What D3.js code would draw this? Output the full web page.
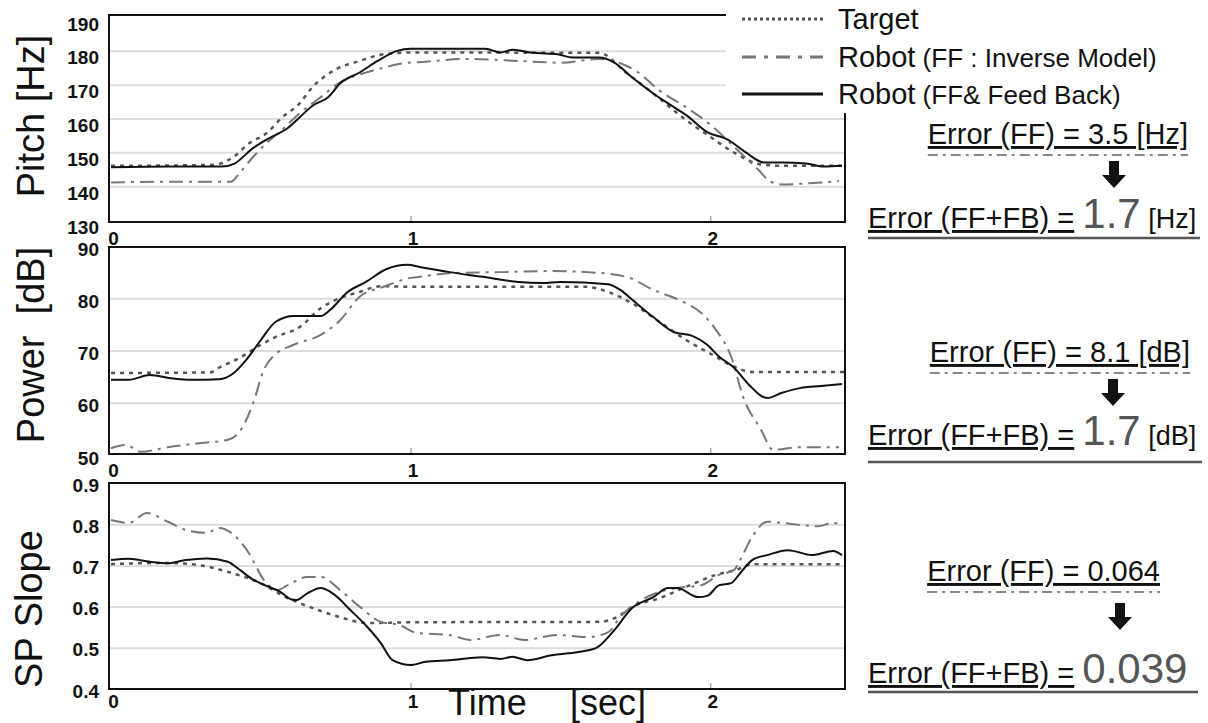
<!DOCTYPE html>
<html>
<head>
<meta charset="utf-8">
<script src="https://cdn.jsdelivr.net/npm/d3@7"></script>
<style>
  body { margin: 0; background: #fff; }
  svg { display: block; font-family: "Liberation Sans", Arial, sans-serif; }
</style>
</head>
<body>
<svg id="chart" width="1208" height="723"></svg>
<script>
// time axis [sec]
const xTicks = [0, 1, 2];

// Pitch [Hz] : [time, value]
const pitchTarget = [[0,146],[0.34,146.3],[0.41,148.7],[0.46,152.6],[0.52,155.7],[0.57,160.2],[0.63,164.5],[0.67,169],[0.75,174.5],[0.83,177],[0.91,179],[1.0,179.5],[1.63,179.4],[1.72,173.5],[1.81,167.4],[1.92,159.5],[2.0,154.6],[2.08,149.9],[2.17,146.4],[2.25,146],[2.45,146]];
const pitchFF = [[0,141.1],[0.2,141.3],[0.40,141.3],[0.43,144],[0.475,148.7],[0.52,152.8],[0.57,156.6],[0.63,161.6],[0.70,166.3],[0.765,170.7],[0.84,173.3],[0.91,175],[0.965,176.2],[1.05,176.8],[1.19,177.6],[1.36,177],[1.5,176.5],[1.63,177.6],[1.72,175.6],[1.76,173.6],[1.83,168.3],[1.92,163.3],[2.01,157.5],[2.08,151.6],[2.16,144.9],[2.2,141.4],[2.24,140.5],[2.32,140.8],[2.43,141.5]];
const pitchFB = [[0,145.6],[0.2,145.8],[0.37,145.8],[0.41,146.6],[0.475,151.3],[0.53,154.3],[0.59,157.2],[0.63,160.4],[0.675,163.9],[0.725,166.3],[0.765,170.4],[0.83,173.6],[0.89,177],[0.955,180],[1.0,180.6],[1.25,180.6],[1.3,179.5],[1.34,180.3],[1.41,179.4],[1.49,179],[1.54,178],[1.63,178],[1.68,176.5],[1.74,172.1],[1.81,167.4],[1.88,163.3],[1.92,161],[1.99,156],[2.06,153.7],[2.12,149.9],[2.18,147],[2.24,147],[2.32,146.7],[2.38,145.8],[2.44,146]];
const pitchTicks = [130, 140, 150, 160, 170, 180, 190];
const pitchGrid = [140, 150, 160, 170, 180];

// Power [dB]
const powerTarget = [[0,65.7],[0.33,65.8],[0.36,66.7],[0.43,68.6],[0.50,71.1],[0.55,72.6],[0.63,74.5],[0.70,78.1],[0.75,79.7],[0.83,81.2],[0.90,82.3],[1.0,82.2],[1.58,82.2],[1.66,81.2],[1.74,79],[1.83,75.5],[1.92,72],[2.01,69.1],[2.08,66.9],[2.14,65.9],[2.45,65.9]];
const powerFF = [[0,51.3],[0.05,51.9],[0.1,50.6],[0.19,51.5],[0.30,52.3],[0.39,52.9],[0.44,55.4],[0.475,60],[0.51,66.3],[0.54,68.8],[0.61,71.1],[0.70,73],[0.765,75.8],[0.83,80.3],[0.91,82.2],[1.0,83.9],[1.03,84.1],[1.13,84.8],[1.30,85],[1.47,85.2],[1.59,85],[1.72,84.1],[1.81,81.6],[1.91,79.3],[1.97,77.2],[2.02,73.9],[2.07,68.8],[2.11,61.1],[2.17,54.8],[2.21,51],[2.30,51.5],[2.43,51.5]];
const powerFB = [[0,64.4],[0.06,64.4],[0.13,65.3],[0.2,64.7],[0.27,64.4],[0.36,64.5],[0.41,65.7],[0.45,68.1],[0.50,72],[0.55,75.5],[0.61,76.6],[0.70,76.6],[0.73,77.7],[0.79,81.2],[0.85,83.1],[0.92,85.6],[0.99,86.4],[1.03,86],[1.13,85],[1.24,84.1],[1.36,83.1],[1.44,82.9],[1.5,83.1],[1.66,82.7],[1.70,81.6],[1.74,79.7],[1.81,76.4],[1.88,73.5],[1.94,72.8],[1.99,71.1],[2.03,68.8],[2.08,66.7],[2.13,63.4],[2.19,60.9],[2.24,61.9],[2.30,62.8],[2.37,63.2],[2.44,63.6]];
const powerTicks = [50, 60, 70, 80, 90];
const powerGrid = [60, 70, 80];

// SP slope
const slopeTarget = [[0,0.703],[0.19,0.706],[0.30,0.70],[0.41,0.68],[0.50,0.657],[0.57,0.628],[0.69,0.592],[0.775,0.572],[0.855,0.56],[1.0,0.562],[1.63,0.563],[1.69,0.575],[1.74,0.6],[1.83,0.62],[1.91,0.645],[2.02,0.677],[2.09,0.69],[2.14,0.703],[2.45,0.703]];
const slopeFF = [[0,0.81],[0.06,0.803],[0.12,0.827],[0.19,0.806],[0.25,0.786],[0.32,0.779],[0.36,0.791],[0.42,0.767],[0.46,0.73],[0.51,0.665],[0.555,0.64],[0.59,0.652],[0.655,0.672],[0.70,0.672],[0.765,0.64],[0.83,0.6],[0.90,0.563],[0.965,0.555],[1.02,0.536],[1.13,0.531],[1.20,0.519],[1.30,0.531],[1.38,0.519],[1.49,0.531],[1.59,0.526],[1.66,0.538],[1.70,0.575],[1.76,0.611],[1.82,0.633],[1.89,0.645],[1.97,0.652],[2.03,0.677],[2.08,0.689],[2.10,0.713],[2.14,0.769],[2.19,0.806],[2.24,0.803],[2.36,0.795],[2.41,0.803],[2.44,0.798]];
const slopeFB = [[0,0.713],[0.06,0.716],[0.13,0.709],[0.19,0.705],[0.25,0.713],[0.32,0.717],[0.39,0.709],[0.43,0.689],[0.475,0.665],[0.52,0.65],[0.565,0.636],[0.60,0.618],[0.62,0.616],[0.655,0.632],[0.70,0.645],[0.74,0.632],[0.80,0.591],[0.855,0.551],[0.90,0.512],[0.94,0.47],[1.0,0.458],[1.05,0.466],[1.13,0.47],[1.24,0.477],[1.30,0.473],[1.34,0.478],[1.39,0.47],[1.47,0.482],[1.56,0.49],[1.62,0.5],[1.68,0.543],[1.74,0.597],[1.81,0.623],[1.86,0.645],[1.89,0.645],[1.96,0.623],[1.99,0.626],[2.03,0.652],[2.07,0.657],[2.10,0.681],[2.14,0.713],[2.19,0.725],[2.26,0.737],[2.34,0.725],[2.41,0.735],[2.44,0.725]];
const slopeTicks = [0.4, 0.5, 0.6, 0.7, 0.8, 0.9];
const slopeGrid = [0.5, 0.6, 0.7, 0.8];

// error values per panel
const errFF = ["3.5", "8.1", "0.064"];
const errFB = ["1.7", "1.7", "0.039"];
const errUnit = ["[Hz]", "[dB]", ""];

const legendNames = ["Target", "Robot", "Robot"];
const legendNotes = ["", "(FF : Inverse Model)", "(FF& Feed Back)"];

// line styles: target, FF, FF+FB
const styles = [
  { stroke: "#555", width: 2.5, dash: "4,5" },
  { stroke: "#777", width: 2, dash: "14,6,3,6" },
  { stroke: "#111", width: 2, dash: null }
];

const svg = d3.select("#chart");
const left = 109, right = 845;
const x = d3.scaleLinear().domain([0, 2.45]).range([111, 845]);

const panels = [
  { series: [pitchTarget, pitchFF, pitchFB], domain: [130, 190], range: [220, 17], frame: [15, 222],
    ticks: pitchTicks, grid: pitchGrid, fmt: d3.format("d"), labelDy: 7, xLabelY: 245,
    title: "Pitch [Hz]", titleY: 116, titleX: 44 },
  { series: [powerTarget, powerFF, powerFB], domain: [50, 90], range: [455, 246], frame: [247, 454],
    ticks: powerTicks, grid: powerGrid, fmt: d3.format("d"), labelDy: 3, xLabelY: 477,
    title: "Power\u00a0\u00a0[dB]", titleY: 345, titleX: 44 },
  { series: [slopeTarget, slopeFF, slopeFB], domain: [0.4, 0.9], range: [689, 483], frame: [483, 689],
    ticks: slopeTicks, grid: slopeGrid, fmt: d3.format(".1f"), labelDy: 2, xLabelY: 708,
    title: "SP Slope", titleY: 609, titleX: 42 }
];

panels.forEach(p => {
  const y = d3.scaleLinear().domain(p.domain).range(p.range);
  const g = svg.append("g");

  // grid
  g.append("g")
    .attr("transform", `translate(${left},0)`)
    .call(d3.axisLeft(y).tickValues(p.grid).tickSize(-(right - left)).tickFormat(""))
    .call(a => a.select(".domain").remove())
    .selectAll("line").attr("stroke", "#ddd").attr("stroke-width", 2);

  // inner tick marks on the time axis
  g.append("g")
    .attr("transform", `translate(0,${p.frame[1]})`)
    .call(d3.axisBottom(x).tickValues([1, 2]).tickSize(-6).tickFormat(""))
    .call(a => a.select(".domain").remove())
    .selectAll("line").attr("stroke", "#aaa").attr("stroke-width", 1.5);

  // curves
  const line = d3.line().x(d => x(d[0])).y(d => y(d[1])).curve(d3.curveMonotoneX);
  p.series.forEach((s, i) => {
    g.append("path")
      .datum(s)
      .attr("d", line)
      .attr("fill", "none")
      .attr("stroke", styles[i].stroke)
      .attr("stroke-width", styles[i].width)
      .attr("stroke-dasharray", styles[i].dash)
      .attr("stroke-linejoin", "round");
  });

  // frame
  g.append("rect")
    .attr("x", left).attr("y", p.frame[0])
    .attr("width", right - left).attr("height", p.frame[1] - p.frame[0])
    .attr("fill", "none").attr("stroke", "#111").attr("stroke-width", 2);

  // y tick labels
  const ya = g.append("g")
    .attr("transform", `translate(${left},${p.labelDy})`)
    .call(d3.axisLeft(y).tickValues(p.ticks).tickSize(0).tickPadding(left - 99).tickFormat(p.fmt));
  ya.select(".domain").remove();
  ya.selectAll("text").attr("font-size", 19).attr("font-weight", "bold")
    .attr("font-family", "Liberation Sans, Arial, sans-serif").attr("fill", "#111");

  // x tick labels
  const xa = g.append("g")
    .attr("transform", `translate(2,${p.xLabelY})`)
    .call(d3.axisBottom(x).tickValues(xTicks).tickSize(0).tickFormat(d3.format("d")));
  xa.select(".domain").remove();
  xa.selectAll("text").attr("y", 0).attr("dy", 0).attr("font-size", 19).attr("font-weight", "bold")
    .attr("font-family", "Liberation Sans, Arial, sans-serif").attr("fill", "#111");

  // axis title
  svg.append("text")
    .attr("transform", `translate(${p.titleX},${p.titleY}) rotate(-90)`)
    .attr("text-anchor", "middle")
    .attr("font-size", 38).attr("fill", "#111")
    .text(p.title);
});

// time label
svg.append("text").attr("x", 448).attr("y", 715).attr("font-size", 36).attr("fill", "#111").text("Time");
svg.append("text").attr("x", 570).attr("y", 715).attr("font-size", 36).attr("fill", "#111").text("[sec]");

// legend (white box over the top-right corner of the pitch panel)
svg.append("rect").attr("x", 726).attr("y", 0).attr("width", 482).attr("height", 113).attr("fill", "#fff");
const legendY = [19, 57, 94];
const legendStyles = [
  { stroke: "#555", width: 3, dash: "3,3" },
  { stroke: "#777", width: 3, dash: "14,8,4,8" },
  { stroke: "#111", width: 3, dash: null }
];
legendNames.forEach((n, i) => {
  svg.append("line")
    .attr("x1", 742).attr("x2", 823).attr("y1", legendY[i]).attr("y2", legendY[i])
    .attr("stroke", legendStyles[i].stroke).attr("stroke-width", legendStyles[i].width)
    .attr("stroke-dasharray", legendStyles[i].dash);
  const t = svg.append("text").attr("x", 838).attr("y", legendY[i] + 10).attr("fill", "#111");
  t.append("tspan").attr("font-size", 29).text(n);
  if (legendNotes[i]) t.append("tspan").attr("font-size", 26).text(" " + legendNotes[i]);
});

// error annotations
const errLayout = [
  { ffEnd: 1188, ffBase: 144, dashY: 155, arrowX: 1114, arrowY: 161, fbBase: 228, lineY: 238, lineEnd: 1200 },
  { ffEnd: 1190, ffBase: 362, dashY: 373, arrowX: 1113, arrowY: 379, fbBase: 445, lineY: 462, lineEnd: 1202 },
  { ffEnd: 1160, ffBase: 581, dashY: 592, arrowX: 1120, arrowY: 603, fbBase: 683, lineY: 692, lineEnd: 1198 }
];
const fbStart = 868;

errLayout.forEach((L, i) => {
  const ff = svg.append("text")
    .attr("x", L.ffEnd).attr("y", L.ffBase)
    .attr("text-anchor", "end").attr("font-size", 29).attr("fill", "#111")
    .style("text-decoration", "underline")
    .text("Error (FF) = " + errFF[i] + (errUnit[i] ? " " + errUnit[i] : ""));
  const w = ff.node().getComputedTextLength();
  svg.append("line")
    .attr("x1", L.ffEnd - w).attr("x2", L.ffEnd).attr("y1", L.dashY).attr("y2", L.dashY)
    .attr("stroke", "#888").attr("stroke-width", 2).attr("stroke-dasharray", "10,5,3,5");

  const a = L.arrowX, b = L.arrowY;
  svg.append("path")
    .attr("d", `M${a - 5},${b} h10 v14 h7 l-12,13 l-12,-13 h7 z`)
    .attr("fill", "#111");

  const fb = svg.append("text").attr("x", fbStart).attr("y", L.fbBase).attr("fill", "#111");
  fb.append("tspan").attr("font-size", 29).style("text-decoration", "underline").text("Error (FF+FB) =");
  fb.append("tspan").attr("font-size", 29).text(" ");
  fb.append("tspan").attr("font-size", 42).attr("fill", "#555").text(errFB[i]);
  if (errUnit[i]) fb.append("tspan").attr("font-size", 27).text(" " + errUnit[i]);

  svg.append("line")
    .attr("x1", fbStart).attr("x2", L.lineEnd).attr("y1", L.lineY).attr("y2", L.lineY)
    .attr("stroke", "#555").attr("stroke-width", 2.5);
});
</script>
</body>
</html>
